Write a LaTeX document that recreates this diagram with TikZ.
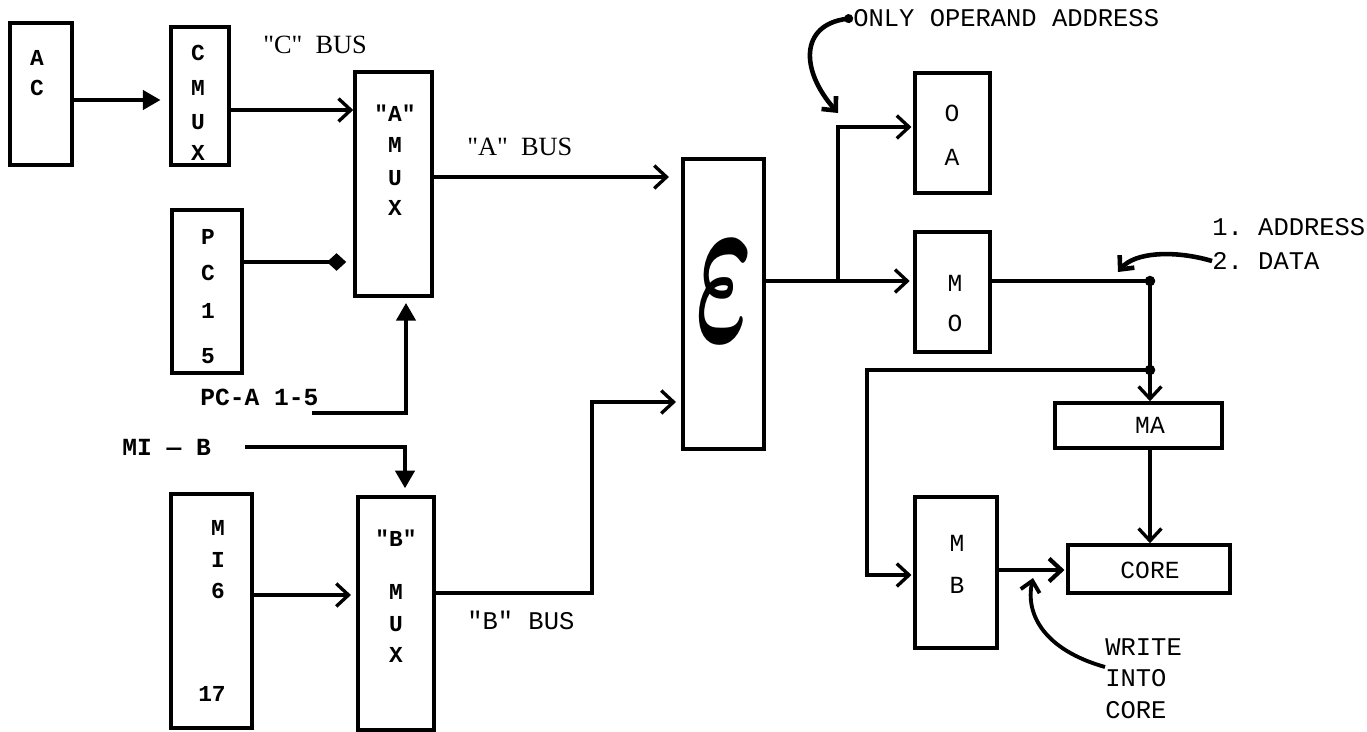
\documentclass[tikz,border=0pt]{standalone}
\usepackage{fontspec}
\setmainfont{Liberation Serif}
\setmonofont{Liberation Mono}
\usetikzlibrary{arrows.meta,fit}
\begin{document}
\begin{tikzpicture}[x=0.02cm,y=-0.02cm,
  box/.style={draw, line width=2pt, inner sep=0pt},
  lt/.style={font=\ttfamily\bfseries\fontsize{13}{15}\selectfont, inner sep=0pt},
  rt/.style={font=\ttfamily\fontsize{14}{16}\selectfont, inner sep=0pt},
  lab/.style={font=\ttfamily\fontsize{14.5}{16}\selectfont, inner sep=0pt, anchor=west},
  slab/.style={font=\rmfamily\fontsize{15}{17}\selectfont, inner sep=0pt, anchor=west},
  wire/.style={line width=1.9pt},
  oarr/.style={wire, -{Straight Barb[length=7pt,width=13pt]}},
  farr/.style={wire, -{Triangle[length=10pt,width=11pt]}},
  darr/.style={wire, -{Diamond[length=11pt,width=10pt]}},
  carr/.style={line width=2.6pt, -{Straight Barb[length=6pt,width=11pt]}},
  dot/.style={fill, circle, inner sep=0pt, minimum size=6pt}
]
\useasboundingbox (0,0) rectangle (1367,731);

% boxes
\node[box, fit={(10,23) (72,165)}] (ac) {};
\node[box, fit={(171,27) (229,165)}] (cmux) {};
\node[box, fit={(355,72) (432,296)}] (amux) {};
\node[box, fit={(172,210) (242,373)}] (pc) {};
\node[box, fit={(171,494) (252,728)}] (mi) {};
\node[box, fit={(358,497) (434,730)}] (bmux) {};
\node[box, fit={(683,159) (764,449)}] (eps) {};
\node[box, fit={(915,73) (990,193)}] (oa) {};
\node[box, fit={(915,232) (990,352)}] (mo) {};
\node[box, fit={(1055,403) (1222,448)}] (ma) {};
\node[box, fit={(915,497) (997,648)}] (mb) {};
\node[box, fit={(1068,545) (1230,593)}] (core) {};

% box letters
\node[lt] (acA) at (37,58) {A};
\node[lt] (acC) at (37,88) {C};
\node[lt] (cmC) at (198,53) {C};
\node[lt] (cmM) at (198,88) {M};
\node[lt] (cmU) at (198,122) {U};
\node[lt] (cmX) at (198,153) {X};
\node[lt] (amA) at (395,113) {"A"};
\node[lt] (amM) at (395,145) {M};
\node[lt] (amU) at (395,178) {U};
\node[lt] (amX) at (395,208) {X};
\node[lt] (pcP) at (208,237) {P};
\node[lt] (pcC) at (208,273) {C};
\node[lt] (pc1) at (208,311) {1};
\node[lt] (pc5) at (208,356) {5};
\node[lt] (miM) at (218,528) {M};
\node[lt] (miI) at (218,560) {I};
\node[lt] (mi6) at (218,591) {6};
\node[lt] (mi17) at (212,694) {17};
\node[lt] (bmB) at (396,538) {"B"};
\node[lt] (bmM) at (396,592) {M};
\node[lt] (bmU) at (396,624) {U};
\node[lt] (bmX) at (396,655) {X};
\node[rt] (oaO) at (952,113) {O};
\node[rt] (oaA) at (952,157) {A};
\node[rt] (moM) at (955,283) {M};
\node[rt] (moO) at (955,323) {O};
\node[rt] (mbM) at (957,543) {M};
\node[rt] (mbB) at (957,585) {B};
\node[rt] (maT) at (1150,425) {MA};
\node[rt] (coreT) at (1150,570) {CORE};
\node[inner sep=0pt] (epsT) at (724,291) {\resizebox{1.15cm}{2cm}{\boldmath$\varepsilon$}};

% labels
\node[slab] (cbus) at (263,45) {\textquotedbl C\textquotedbl\ \ BUS};
\node[slab] (abus) at (467,147) {\textquotedbl A\textquotedbl\ \ BUS};
\node[lab] (bbus) at (467,620) {"B" BUS};
\node[lab, font=\ttfamily\bfseries\fontsize{14}{16}\selectfont] (pca) at (200,397) {PC-A 1-5};
\node[lab, font=\ttfamily\bfseries\fontsize{14}{16}\selectfont] (mib) at (122,447) {MI — B};
\node[lab] (ooa) at (853,18) {ONLY OPERAND ADDRESS};
\node[lab] (addr) at (1212,227) {1. ADDRESS};
\node[lab] (data) at (1212,261) {2. DATA};
\node[lab] (wr1) at (1105,647) {WRITE};
\node[lab] (wr2) at (1105,678) {INTO};
\node[lab] (wr3) at (1105,710) {CORE};

% coordinates
\coordinate (pcaS) at (312,413);
\coordinate (pcaB) at (406,413);
\coordinate (mibS) at (245,447);
\coordinate (mibB) at (405,447);
\coordinate (bB1) at (592,593);
\coordinate (bB2) at (592,402);
\coordinate (jE) at (838,281);
\coordinate (jM) at (1150,281);
\coordinate (jM2) at (1150,370);
\coordinate (bl1) at (867,370);
\coordinate (bl2) at (867,575);
\coordinate (ooaT) at (838,113);
\coordinate (dataT) at (1118,272);
\coordinate (wrT) at (1033,578);

% connectors
\draw[farr, shorten >=5pt] (ac.east |- 0,100) -- (cmux.west |- 0,100);
\draw[oarr] (cmux.east |- 0,110) -- (amux.west |- 0,110);
\draw[darr, shorten >=4pt] (pc.east |- 0,262) -- (amux.west |- 0,262);
\draw[farr, shorten >=3pt] (pcaS) -- (pcaB) -- (amux.south -| pcaB);
\draw[farr, shorten >=4pt] (mibS) -- (mibB) -- (bmux.north -| mibB);
\draw[oarr, shorten >=3pt] (mi.east |- 0,595) -- (bmux.west |- 0,595);
\draw[oarr, shorten >=7pt] (amux.east |- 0,177) -- (eps.west |- 0,177);
\draw[oarr, shorten >=3pt] (bmux.east |- bB1) -- (bB1) -- (bB2) -- (eps.west |- bB2);
\draw[oarr, shorten >=2pt] (eps.east |- jE) -- (mo.west |- jE);
\draw[oarr, shorten >=1pt] (jE) |- (oa.west |- 0,127);
\draw[wire, line width=2.6pt] (mo.east |- jM) -- (jM);
\draw[oarr] (jM) -- (jM2) -- (ma.north -| jM2);
\draw[oarr, shorten >=1pt] (jM2) -- (bl1) -- (bl2) -- (mb.west |- bl2);
\draw[oarr] (ma.south -| jM2) -- (core.north -| jM2);
\draw[oarr, line width=2.4pt, shorten >=1pt] (mb.east |- 0,570) -- (core.west |- 0,570);
\node[dot] (dM) at (jM) {};
\node[dot] (dM2) at (jM2) {};

% annotation arrows
\draw[carr, {Circle[length=5pt]}-{Straight Barb[length=6pt,width=11pt]}] (ooa.west) .. controls (800,25) and (800,70) .. (ooaT);
\draw[carr] (data.west) .. controls (1175,250) and (1135,252) .. (dataT);
\draw[line width=2.2pt, -{Straight Barb[length=6pt,width=11pt]}] (wr1.west |- 0,667) .. controls (1045,650) and (1025,615) .. (wrT);
\end{tikzpicture}
\end{document}
